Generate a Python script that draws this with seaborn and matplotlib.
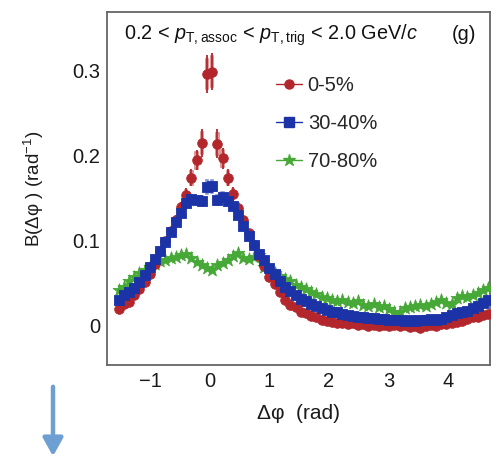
import numpy as np
import pandas as pd
import matplotlib
matplotlib.use("Agg")
import matplotlib.pyplot as plt
from matplotlib.lines import Line2D
import seaborn as sns

# ---------------- data ----------------
n_bins = 72
dphi = -np.pi / 2 + (np.arange(n_bins) + 0.5) * (2 * np.pi / n_bins)

b_0_5 = [0.020, 0.026, 0.028, 0.036, 0.043, 0.052, 0.061, 0.073, 0.088, 0.100,
         0.112, 0.125, 0.140, 0.154, 0.174, 0.195, 0.215, 0.296, 0.299, 0.214,
         0.197, 0.174, 0.155, 0.139, 0.124, 0.109, 0.095, 0.082, 0.070, 0.058,
         0.049, 0.040, 0.031, 0.025, 0.022, 0.017, 0.015, 0.012, 0.010, 0.007,
         0.006, 0.005, 0.004, 0.003, 0.002, 0.003, 0.001, 0.002, 0.000, 0.001,
         0.000, 0.001, 0.000, 0.001, 0.000, 0.001, -0.001, 0.000, -0.002, 0.000,
         0.001, 0.000, 0.002, 0.002, 0.003, 0.005, 0.006, 0.008, 0.010, 0.011,
         0.013, 0.014]

b_30_40 = [0.031, 0.036, 0.040, 0.045, 0.052, 0.060, 0.069, 0.079, 0.088, 0.099,
           0.110, 0.122, 0.133, 0.145, 0.149, 0.148, 0.147, 0.163, 0.164, 0.148,
           0.152, 0.147, 0.141, 0.131, 0.118, 0.106, 0.095, 0.085, 0.077, 0.068,
           0.061, 0.053, 0.046, 0.041, 0.036, 0.032, 0.029, 0.026, 0.023, 0.021,
           0.019, 0.017, 0.016, 0.014, 0.013, 0.012, 0.011, 0.010, 0.009, 0.009,
           0.008, 0.008, 0.007, 0.007, 0.007, 0.006, 0.007, 0.006, 0.007, 0.007,
           0.008, 0.007, 0.008, 0.010, 0.013, 0.015, 0.017, 0.018, 0.021, 0.024,
           0.027, 0.030]

b_70_80 = [0.042, 0.046, 0.053, 0.057, 0.062, 0.066, 0.069, 0.073, 0.076, 0.078,
           0.080, 0.081, 0.083, 0.085, 0.080, 0.075, 0.072, 0.068, 0.066, 0.072,
           0.074, 0.077, 0.082, 0.086, 0.080, 0.079, 0.081, 0.083, 0.069, 0.066,
           0.062, 0.059, 0.055, 0.053, 0.048, 0.046, 0.044, 0.040, 0.038, 0.034,
           0.033, 0.031, 0.029, 0.030, 0.028, 0.027, 0.029, 0.025, 0.024, 0.026,
           0.022, 0.024, 0.020, 0.017, 0.016, 0.021, 0.022, 0.023, 0.025, 0.024,
           0.026, 0.028, 0.031, 0.027, 0.026, 0.033, 0.035, 0.034, 0.036, 0.039,
           0.042, 0.045]

# uncertainties on the near-side peak (bins 11..24)
near_first, near_last = 11, 24
red_stat = [0.005, 0.006, 0.008, 0.010, 0.012, 0.017, 0.022, 0.022, 0.017, 0.012,
            0.010, 0.008, 0.006, 0.005]
red_sys = [0.004, 0.005, 0.006, 0.008, 0.010, 0.013, 0.018, 0.018, 0.013, 0.010,
           0.008, 0.006, 0.005, 0.004]
blue_sys = [0.003, 0.003, 0.004, 0.004, 0.005, 0.006, 0.008, 0.008, 0.006, 0.005,
            0.004, 0.004, 0.003, 0.003]

labels = ["0-5%", "30-40%", "70-80%"]
colors = ["#b2262c", "#1b33a6", "#46a836"]
markers = ["o", "s", "*"]
series = [b_0_5, b_30_40, b_70_80]

x_ticks = [-1, 0, 1, 2, 3, 4]
y_ticks = [0, 0.1, 0.2, 0.3]
y_tick_labels = ["0", "0.1", "0.2", "0.3"]

# ---------------- figure ----------------
sns.set_theme(style="white")
plt.rcParams["font.family"] = ["Liberation Sans", "DejaVu Sans"]
plt.rcParams["mathtext.fontset"] = "custom"
plt.rcParams["mathtext.rm"] = "Liberation Sans"
plt.rcParams["mathtext.it"] = "Liberation Sans:italic"
plt.rcParams["mathtext.bf"] = "Liberation Sans:bold"

fig = plt.figure(figsize=(5.0, 4.61), dpi=100)
ax = fig.add_axes([0.214, 0.208, 0.766, 0.766])

df = pd.DataFrame({
    "dphi": np.tile(dphi, 3),
    "B": np.concatenate(series),
    "cent": np.repeat(labels, n_bins),
})

near = slice(near_first, near_last + 1)
xn = dphi[near]
# systematic boxes
ax.bar(xn, 2 * np.array(red_sys), bottom=np.array(b_0_5[near]) - np.array(red_sys),
       width=0.04, fill=False, edgecolor="#d77a7a", linewidth=1.1, zorder=2)
ax.bar(xn, 2 * np.array(blue_sys), bottom=np.array(b_30_40[near]) - np.array(blue_sys),
       width=0.04, fill=False, edgecolor="#7d8bd6", linewidth=1.1, zorder=2)
ax.errorbar(xn, b_0_5[near], yerr=red_stat, fmt="none", ecolor=colors[0],
            elinewidth=1.3, zorder=3)

for lab, col, mk in zip(labels, colors, markers):
    sub = df[df["cent"] == lab]
    sns.scatterplot(data=sub, x="dphi", y="B", color=col, marker=mk,
                    s=(95 if mk == "*" else 48), edgecolor=col, linewidth=0.6,
                    ax=ax, zorder=4 if lab == "0-5%" else (5 if lab == "30-40%" else 3),
                    legend=False)

ax.set_xlim(-1.72, 4.70)
ax.set_ylim(-0.046, 0.369)
ax.set_xticks(x_ticks)
ax.set_xticklabels(["\u22121", "0", "1", "2", "3", "4"])
ax.set_yticks(y_ticks)
ax.set_yticklabels(y_tick_labels)
ax.tick_params(axis="both", direction="in", labelsize=14.5, colors="#1a1a1a",
               width=1.2)
ax.tick_params(axis="y", length=8.5, pad=5, color="#555555")
ax.tick_params(axis="x", length=5.5, pad=5, color="#555555")
ax.tick_params(top=False, right=False)
for sp in ax.spines.values():
    sp.set_color("#666666")
    sp.set_linewidth(1.3)

ax.set_xlabel("\u0394\u03c6  (rad)", fontsize=15, labelpad=9, color="#1a1a1a")
ax.set_ylabel("B(\u0394\u03c6 ) (rad$^{-1}$)", fontsize=13.5, labelpad=19,
              color="#1a1a1a")

ax.text(0.045, 0.935,
        r"0.2 < $p_{\mathrm{T,assoc}}$ < $p_{\mathrm{T,trig}}$ < 2.0 GeV/$c$",
        transform=ax.transAxes, fontsize=14.3, ha="left", va="center", color="#111111")
ax.text(0.965, 0.935, "(g)", transform=ax.transAxes, fontsize=14.3,
        ha="right", va="center", color="#111111")

handles = [Line2D([0], [0], color=c, marker=m, markersize=(9 if m == "*" else 6.5),
                  linewidth=1.0, markeredgecolor=c) for c, m in zip(colors, markers)]
ax.legend(handles, labels, loc="upper left", bbox_to_anchor=(0.44, 0.82),
          frameon=False, fontsize=14.5, handlelength=1.3, handletextpad=0.3,
          labelspacing=0.95, borderpad=0, borderaxespad=0)

ax.annotate("", xy=(53, 2), xytext=(53, 77), xycoords="figure pixels",
            textcoords="figure pixels",
            arrowprops=dict(arrowstyle="-|>,head_width=0.5,head_length=0.9",
                            color="#6d9fd2", linewidth=3.2))

fig.savefig("out.png", dpi=100)
